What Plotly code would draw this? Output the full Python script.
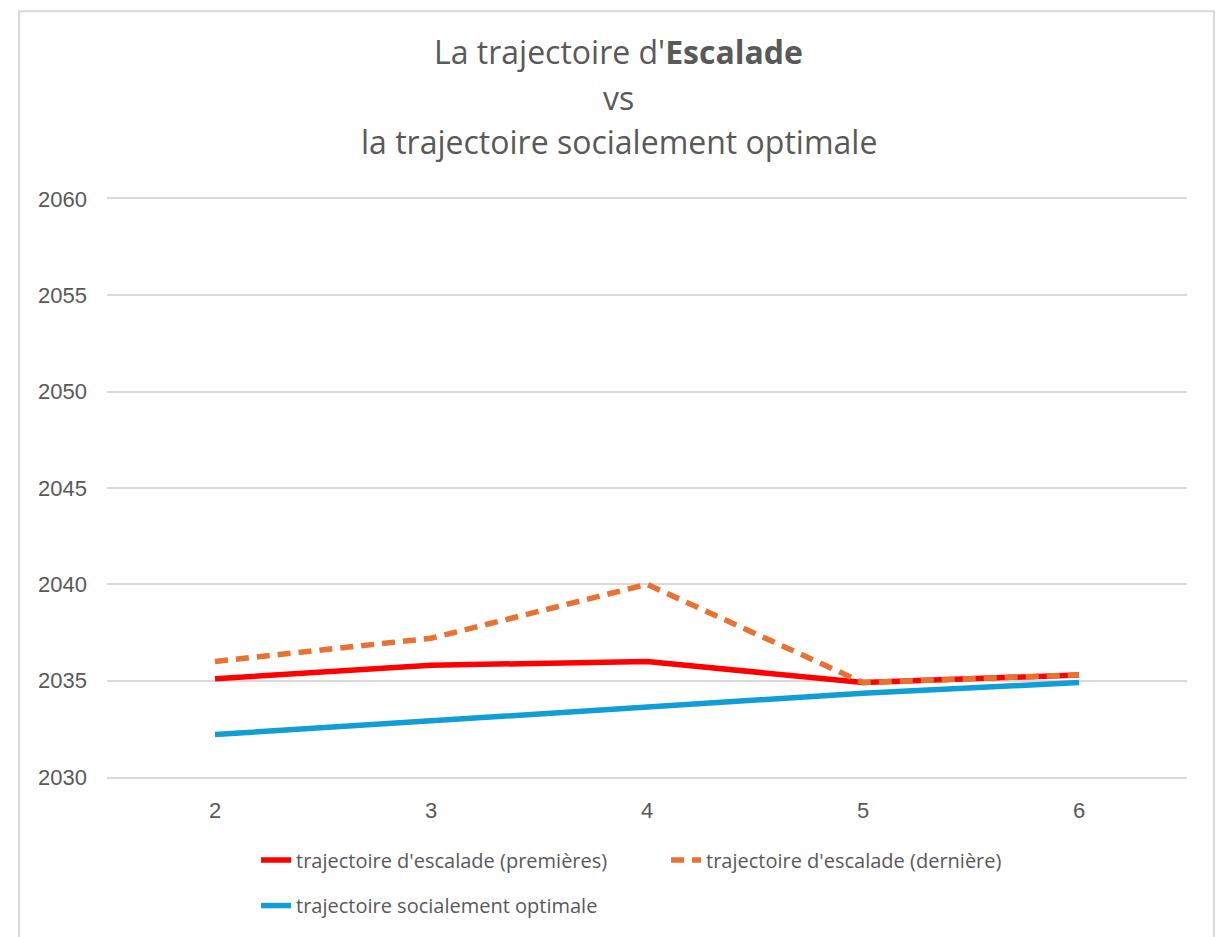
import plotly.graph_objects as go

# data
steps = [2, 3, 4, 5, 6]
escalade_premieres = [2035.1, 2035.8, 2036.0, 2034.9, 2035.3]
escalade_derniere = [2036.0, 2037.2, 2040.0, 2034.9, 2035.3]
socialement_optimale = [2032.2, 2032.9, 2033.6, 2034.35, 2034.9]
y_ticks = [2030, 2035, 2040, 2045, 2050, 2055, 2060]

GREY_TEXT = "#595959"
GRID = "#d9d9d9"
LEGEND_FONT = dict(family="Open Sans", size=20, color=GREY_TEXT)
TICK_FONT = dict(family="Liberation Sans", size=22, color=GREY_TEXT)

fig = go.Figure()

fig.add_trace(go.Scatter(
    x=steps, y=escalade_premieres,
    mode="lines",
    name="trajectoire d'escalade (premières)",
    line=dict(color="#ff0000", width=5.5),
    legend="legend",
))
fig.add_trace(go.Scatter(
    x=steps, y=escalade_derniere,
    mode="lines",
    name="trajectoire d'escalade (dernière)",
    line=dict(color="#e97132", width=5.5, dash="13px,8px"),
    legend="legend",
))
fig.add_trace(go.Scatter(
    x=steps, y=socialement_optimale,
    mode="lines",
    name="trajectoire socialement optimale",
    line=dict(color="#0f9ed5", width=5.5),
    legend="legend2",
))

# title: three centred lines, second word in bold
title_lines = [
    "La trajectoire d'<b>Escalade</b>",
    "vs",
    "la trajectoire socialement optimale",
]
for text, ypos in zip(title_lines, [1.256, 1.176, 1.099]):
    fig.add_annotation(
        text=text, xref="paper", yref="paper",
        x=0.474, y=ypos, showarrow=False,
        xanchor="center", yanchor="middle",
        font=dict(family="Open Sans", size=32, color=GREY_TEXT),
    )

# chart frame
fig.add_shape(
    type="rect", xref="paper", yref="paper",
    x0=-0.0815, x1=1.025, y0=-0.3, y1=1.325,
    line=dict(color=GRID, width=2), fillcolor="rgba(0,0,0,0)",
    layer="below",
)

fig.update_layout(
    width=1217,
    height=929,
    margin=dict(l=99, r=38, t=191, b=154),
    paper_bgcolor="white",
    plot_bgcolor="white",
    showlegend=True,
    legend=dict(
        orientation="h",
        x=0.138, xanchor="left",
        y=-0.1438, yanchor="middle",
        font=LEGEND_FONT,
        entrywidth=365,
        itemwidth=30,
    ),
    legend2=dict(
        orientation="h",
        x=0.138, xanchor="left",
        y=-0.2224, yanchor="middle",
        font=LEGEND_FONT,
        itemwidth=30,
    ),
    xaxis=dict(
        type="linear",
        range=[1.5, 6.5],
        tickvals=steps,
        ticktext=[str(s) for s in steps],
        showgrid=False,
        zeroline=False,
        showline=True,
        mirror=True,
        linecolor=GRID,
        linewidth=1.5,
        ticks="",
        tickfont=TICK_FONT,
        ticklabelstandoff=13,
    ),
    yaxis=dict(
        range=[2030, 2060],
        tickvals=y_ticks,
        showgrid=True,
        gridcolor=GRID,
        gridwidth=1.5,
        zeroline=False,
        showline=False,
        ticks="",
        tickfont=TICK_FONT,
        ticklabelstandoff=19,
    ),
)

fig.write_html("out.html")
